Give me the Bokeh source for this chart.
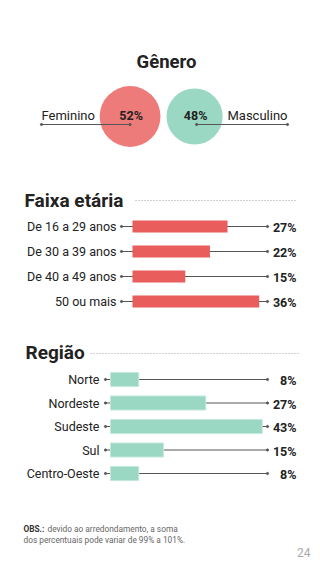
from bokeh.plotting import figure
from bokeh.models import Range1d
from bokeh.embed import file_html
from bokeh.resources import INLINE
from bokeh.core.properties import value

# ---- data ----
gender_labels = ["Feminino", "Masculino"]
gender_values = [52, 48]

age_labels = ["De 16 a 29 anos", "De 30 a 39 anos", "De 40 a 49 anos", "50 ou mais"]
age_values = [27, 22, 15, 36]

region_labels = ["Norte", "Nordeste", "Sudeste", "Sul", "Centro-Oeste"]
region_values = [8, 27, 43, 15, 8]

RED = "#E95D5C"
RED_LIGHT = "#ED7B79"
GREEN = "#9BD8C4"
GREEN_LIGHT = "#9AD8C3"
TXT = "#222222"
LINE = "#555555"
FONT = "Roboto"

W, H = 320, 569
p = figure(width=W, height=H, output_backend="svg", toolbar_location=None,
           x_range=Range1d(0, W), y_range=Range1d(H, 0), min_border=0)
p.axis.visible = False
p.grid.visible = False
p.outline_line_color = None
p.background_fill_color = "white"

# extra ranges: percent scales for bars and row index scales
AGE_X0, AGE_K = 132, 3.52
REG_X0, REG_K = 110, 3.53
p.extra_x_ranges = {
    "age": Range1d(-AGE_X0 / AGE_K, (W - AGE_X0) / AGE_K),
    "reg": Range1d(-REG_X0 / REG_K, (W - REG_X0) / REG_K),
}
AGE_Y0, AGE_DY = 226, 25
REG_Y0, REG_DY = 379, 23.5
p.extra_y_ranges = {
    "agey": Range1d((H - AGE_Y0) / AGE_DY, -AGE_Y0 / AGE_DY),
    "regy": Range1d((H - REG_Y0) / REG_DY, -REG_Y0 / REG_DY),
}

def txt(x, y, s, size, bold=False, align="left", color=TXT, baseline="middle"):
    p.text(x=[x], y=[y], text=[s], text_font=value(FONT), text_font_size=f"{size}px",
           text_font_style="bold" if bold else "normal", text_align=align,
           text_baseline=baseline, text_color=color)

# ---- Gênero ----
txt(166, 61, "Gênero", 18.5, bold=True, align="center")
k = 0.585
r1, r2 = gender_values[0] * k, gender_values[1] * k
mid, gap, cy = 163, 6, 116
cx1 = mid - gap / 2 - r1
cx2 = mid + gap / 2 + r2
p.circle(x=[cx1], y=[cy], radius=r1, fill_color=RED_LIGHT, line_color=None)
p.circle(x=[cx2], y=[cy], radius=r2, fill_color=GREEN_LIGHT, line_color=None)
# leader lines
ly = 124
p.line(x=[41, cx1], y=[ly, ly], line_color=LINE, line_width=1)
p.line(x=[cx2 + 2, 287], y=[ly, ly], line_color=LINE, line_width=1)
p.scatter(x=[41, cx1, cx2 + 2, 287], y=[ly] * 4, size=2.2, color=LINE)
txt(41, 115, gender_labels[0], 13)
txt(287, 115, gender_labels[1], 13, align="right")
txt(cx1 + 1, 115, f"{gender_values[0]}%", 12.5, bold=True, align="center")
txt(cx2 + 1, 115, f"{gender_values[1]}%", 12.5, bold=True, align="center")

# ---- Faixa etária ----
txt(24, 200, "Faixa etária", 19, bold=True)
p.line(x=[135, 296], y=[200, 200], line_color="#8a8a8a", line_width=0.8, line_dash="1 2")
age_idx = list(range(len(age_values)))
age_line_end = [max(267, AGE_X0 + v * AGE_K + 5) for v in age_values]
for i, v in enumerate(age_values):
    yy = AGE_Y0 + i * AGE_DY
    p.line(x=[121, age_line_end[i]], y=[yy, yy], line_color=LINE, line_width=1)
    p.scatter(x=[121, age_line_end[i]], y=[yy, yy], size=2.2, color=LINE)
    txt(116, yy, age_labels[i], 12.5, align="right")
    txt(296, yy + 1, f"{v}%", 12.5, bold=True, align="right")
p.hbar(y=age_idx, left=0, right=age_values, height=0.48, fill_color=RED, line_color=None,
       x_range_name="age", y_range_name="agey")

# ---- Região ----
txt(25, 352, "Região", 19, bold=True)
p.line(x=[90, 298], y=[353, 353], line_color="#8a8a8a", line_width=0.8, line_dash="1 2")
reg_idx = list(range(len(region_values)))
reg_line_end = [max(267, REG_X0 + v * REG_K + 3) for v in region_values]
for i, v in enumerate(region_values):
    yy = REG_Y0 + i * REG_DY
    p.line(x=[105, reg_line_end[i]], y=[yy, yy], line_color=LINE, line_width=1)
    p.scatter(x=[105, reg_line_end[i]], y=[yy, yy], size=2.2, color=LINE)
    txt(99, yy, region_labels[i], 12.5, align="right")
    txt(296, yy + 1, f"{v}%", 12.5, bold=True, align="right")
p.hbar(y=reg_idx, left=0, right=region_values, height=0.6, fill_color=GREEN,
       line_color="#C4EADD", line_width=1, x_range_name="reg", y_range_name="regy")

# ---- footer ----
p.text(x=[23], y=[528], text=["OBS.:"], text_font=value(FONT), text_font_size="8.3px",
       text_font_style="bold", text_baseline="middle", text_color="#333333")
p.text(x=[47], y=[528], text=["devido ao arredondamento, a soma"], text_font=value(FONT),
       text_font_size="8.3px", text_baseline="middle", text_color="#666666")
p.text(x=[23], y=[539], text=["dos percentuais pode variar de 99% a 101%."], text_font=value(FONT),
       text_font_size="8.3px", text_baseline="middle", text_color="#666666")
txt(310, 552, "24", 12, align="right", color="#aaaaaa")

open("out.html", "w").write(file_html(p, INLINE))
